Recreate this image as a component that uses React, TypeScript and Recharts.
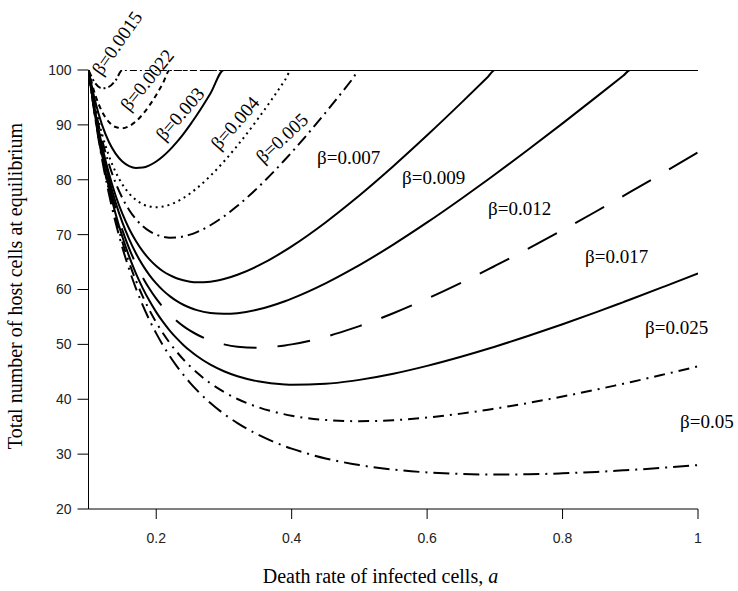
import React from 'react';
import { LineChart, Line, XAxis, YAxis } from 'recharts';

// death rate of infected cells (shared x grid)
const deathRate = [
  0.1, 0.11, 0.12, 0.13, 0.14, 0.15, 0.16, 0.17, 0.18, 0.19, 0.2, 0.21, 0.22, 0.23, 0.24, 0.25, 0.26, 0.28, 0.3,
  0.32, 0.35, 0.39, 0.4, 0.45, 0.49, 0.5, 0.55, 0.6, 0.65, 0.69, 0.7, 0.75, 0.8, 0.85, 0.89, 0.9, 0.95, 1,
];

// total host cells at equilibrium, one list per beta
const b0015 = [
  100, 97.58, 96.67, 96.92, 98.1, 100, 100, 100, 100, 100, 100, 100, 100, 100, 100, 100, 100, 100, 100,
  100, 100, 100, 100, 100, 100, 100, 100, 100, 100, 100, 100, 100, 100, 100, 100, 100, 100, 100,
];
const b0022 = [
  100, 95.45, 92.42, 90.56, 89.61, 89.39, 89.77, 90.64, 91.92, 93.54, 95.45, 97.62, 100, 100, 100, 100, 100, 100, 100,
  100, 100, 100, 100, 100, 100, 100, 100, 100, 100, 100, 100, 100, 100, 100, 100, 100, 100, 100,
];
const b003 = [
  100, 94.24, 90, 86.92, 84.76, 83.33, 82.5, 82.16, 82.22, 82.63, 83.33, 84.29, 85.45, 86.81, 88.33, 90, 91.79, 95.71, 100,
  100, 100, 100, 100, 100, 100, 100, 100, 100, 100, 100, 100, 100, 100, 100, 100, 100, 100, 100,
];
const b004 = [
  100, 93.41, 88.33, 84.42, 81.43, 79.17, 77.5, 76.32, 75.56, 75.13, 75, 75.12, 75.45, 75.98, 76.67, 77.5, 78.46, 80.71, 83.33,
  86.25, 91.07, 98.14, 100, 100, 100, 100, 100, 100, 100, 100, 100, 100, 100, 100, 100, 100, 100, 100,
];
const b005 = [
  100, 92.91, 87.33, 82.92, 79.43, 76.67, 74.5, 72.82, 71.56, 70.63, 70, 69.62, 69.45, 69.48, 69.67, 70, 70.46, 71.71, 73.33,
  75.25, 78.57, 83.64, 85, 92.22, 98.41, 100, 100, 100, 100, 100, 100, 100, 100, 100, 100, 100, 100, 100,
];
const b007 = [
  100, 92.34, 86.19, 81.21, 77.14, 73.81, 71.07, 68.82, 66.98, 65.49, 64.29, 63.33, 62.6, 62.05, 61.67, 61.43, 61.32, 61.43, 61.9,
  62.68, 64.29, 67.07, 67.86, 72.22, 76.12, 77.14, 82.47, 88.1, 93.96, 98.78, 100, 100, 100, 100, 100, 100, 100, 100,
];
const b009 = [
  100, 92.02, 85.56, 80.26, 75.87, 72.22, 69.17, 66.6, 64.44, 62.63, 61.11, 59.84, 58.79, 57.92, 57.22, 56.67, 56.24, 55.71, 55.56,
  55.69, 56.35, 57.86, 58.33, 61.11, 63.74, 64.44, 68.18, 72.22, 76.5, 80.05, 80.95, 85.56, 90.28, 95.1, 99.01, 100, 100, 100,
];
const b012 = [
  100, 91.74, 85, 79.42, 74.76, 70.83, 67.5, 64.66, 62.22, 60.13, 58.33, 56.79, 55.45, 54.31, 53.33, 52.5, 51.8, 50.71, 50,
  49.58, 49.4, 49.81, 50, 51.39, 52.91, 53.33, 55.68, 58.33, 61.22, 63.66, 64.29, 67.5, 70.83, 74.26, 77.07, 77.78, 81.36, 85,
];
const b017 = [
  100, 91.5, 84.51, 78.69, 73.78, 69.61, 66.03, 62.94, 60.26, 57.93, 55.88, 54.09, 52.51, 51.13, 49.9, 48.82, 47.87, 46.3, 45.1,
  44.19, 43.28, 42.7, 42.65, 42.81, 43.35, 43.53, 44.65, 46.08, 47.74, 49.2, 49.58, 51.57, 53.68, 55.88, 57.71, 58.17, 60.53, 62.94,
];
const b025 = [
  100, 91.31, 84.13, 78.12, 73.03, 68.67, 64.9, 61.62, 58.76, 56.23, 54, 52.02, 50.25, 48.68, 47.27, 46, 44.86, 42.91, 41.33,
  40.05, 38.57, 37.24, 37, 36.22, 36.01, 36, 36.18, 36.67, 37.38, 38.09, 38.29, 39.33, 40.5, 41.76, 42.84, 43.11, 44.53, 46,
];
const b05 = [
  100, 91.11, 83.73, 77.52, 72.23, 67.67, 63.7, 60.22, 57.16, 54.43, 52, 49.82, 47.85, 46.08, 44.47, 43, 41.66, 39.31, 37.33,
  35.65, 33.57, 31.44, 31, 29.22, 28.21, 28, 27.18, 26.67, 26.38, 26.29, 26.29, 26.33, 26.5, 26.76, 27.04, 27.11, 27.53, 28,
];

const xTicks = [0.2, 0.4, 0.6, 0.8, 1];
const yTicks = [20, 30, 40, 50, 60, 70, 80, 90, 100];

const series = [
  { key: 'b0015', values: b0015, dash: '7 3 2 3' },
  { key: 'b0022', values: b0022, dash: '5 4' },
  { key: 'b003', values: b003, dash: undefined },
  { key: 'b004', values: b004, dash: '2 4' },
  { key: 'b005', values: b005, dash: '12 5 2 5' },
  { key: 'b007', values: b007, dash: undefined },
  { key: 'b009', values: b009, dash: undefined },
  { key: 'b012', values: b012, dash: '33 21' },
  { key: 'b017', values: b017, dash: undefined },
  { key: 'b025', values: b025, dash: '11 6 2 6' },
  { key: 'b05', values: b05, dash: '16 6 2 6' },
];

const data = deathRate.map((a, i) => {
  const row: Record<string, number> = { a };
  series.forEach((s) => (row[s.key] = s.values[i]));
  return row;
});

// curve labels: rotated ones sit in the top-left corner
const slantedLabels = [
  { text: 'β=0.0015', x: 117, y: 43, angle: -55 },
  { text: 'β=0.0022', x: 147, y: 80, angle: -51 },
  { text: 'β=0.003', x: 180, y: 114, angle: -49 },
  { text: 'β=0.004', x: 235, y: 123, angle: -49 },
  { text: 'β=0.005', x: 282, y: 138, angle: -43 },
];
const flatLabels = [
  { text: 'β=0.007', x: 317, y: 164 },
  { text: 'β=0.009', x: 402, y: 184 },
  { text: 'β=0.012', x: 488, y: 215 },
  { text: 'β=0.017', x: 585, y: 263 },
  { text: 'β=0.025', x: 645, y: 334 },
  { text: 'β=0.05', x: 680, y: 428 },
];

const serif = '"Liberation Serif", "Times New Roman", serif';
const sans = '"Liberation Sans", Arial, sans-serif';
const tickStyle = { fontFamily: sans, fontSize: 14, fill: '#222' };

export default function App() {
  return (
    <div style={{ position: 'absolute', left: 0, top: 0, width: 738, height: 591, background: '#fff' }}>
      <LineChart width={738} height={591} data={data} margin={{ top: 70, right: 40, bottom: 0, left: 0 }}>
        <XAxis
          type="number"
          dataKey="a"
          domain={[0.1, 1]}
          ticks={xTicks}
          height={82}
          tickSize={10}
          tickMargin={14}
          tick={tickStyle}
          fontSize={14}
          fontFamily={sans}
          stroke="#000"
          allowDataOverflow
        />
        <YAxis
          type="number"
          domain={[20, 100]}
          ticks={yTicks}
          width={88.5}
          tickSize={11}
          tickMargin={6}
          tick={tickStyle}
          fontSize={14}
          fontFamily={sans}
          stroke="#000"
          allowDataOverflow
        />
        {series.map((s) => (
          <Line
            key={s.key}
            type="monotone"
            dataKey={s.key}
            stroke="#000"
            strokeWidth={2}
            strokeDasharray={s.dash}
            dot={false}
            activeDot={false}
            isAnimationActive={false}
          />
        ))}
      </LineChart>
      <svg width={738} height={591} style={{ position: 'absolute', left: 0, top: 0, pointerEvents: 'none' }}>
        <g fontFamily={serif} fontSize={19} fill="#000">
          {slantedLabels.map((l) => (
            <text
              key={l.text}
              x={l.x}
              y={l.y}
              textAnchor="middle"
              dominantBaseline="central"
              transform={`rotate(${l.angle}, ${l.x}, ${l.y})`}
            >
              {l.text}
            </text>
          ))}
          {flatLabels.map((l) => (
            <text key={l.text} x={l.x} y={l.y}>
              {l.text}
            </text>
          ))}
        </g>
        <text x={380.5} y={583} textAnchor="middle" fontFamily={serif} fontSize={20} fill="#000">
          Death rate of infected cells, <tspan fontStyle="italic">a</tspan>
        </text>
        <text
          x={15}
          y={286}
          textAnchor="middle"
          dominantBaseline="central"
          transform="rotate(-90, 15, 286)"
          fontFamily={serif}
          fontSize={20}
          fill="#000"
        >
          Total number of host cells at equilibrium
        </text>
      </svg>
    </div>
  );
}
